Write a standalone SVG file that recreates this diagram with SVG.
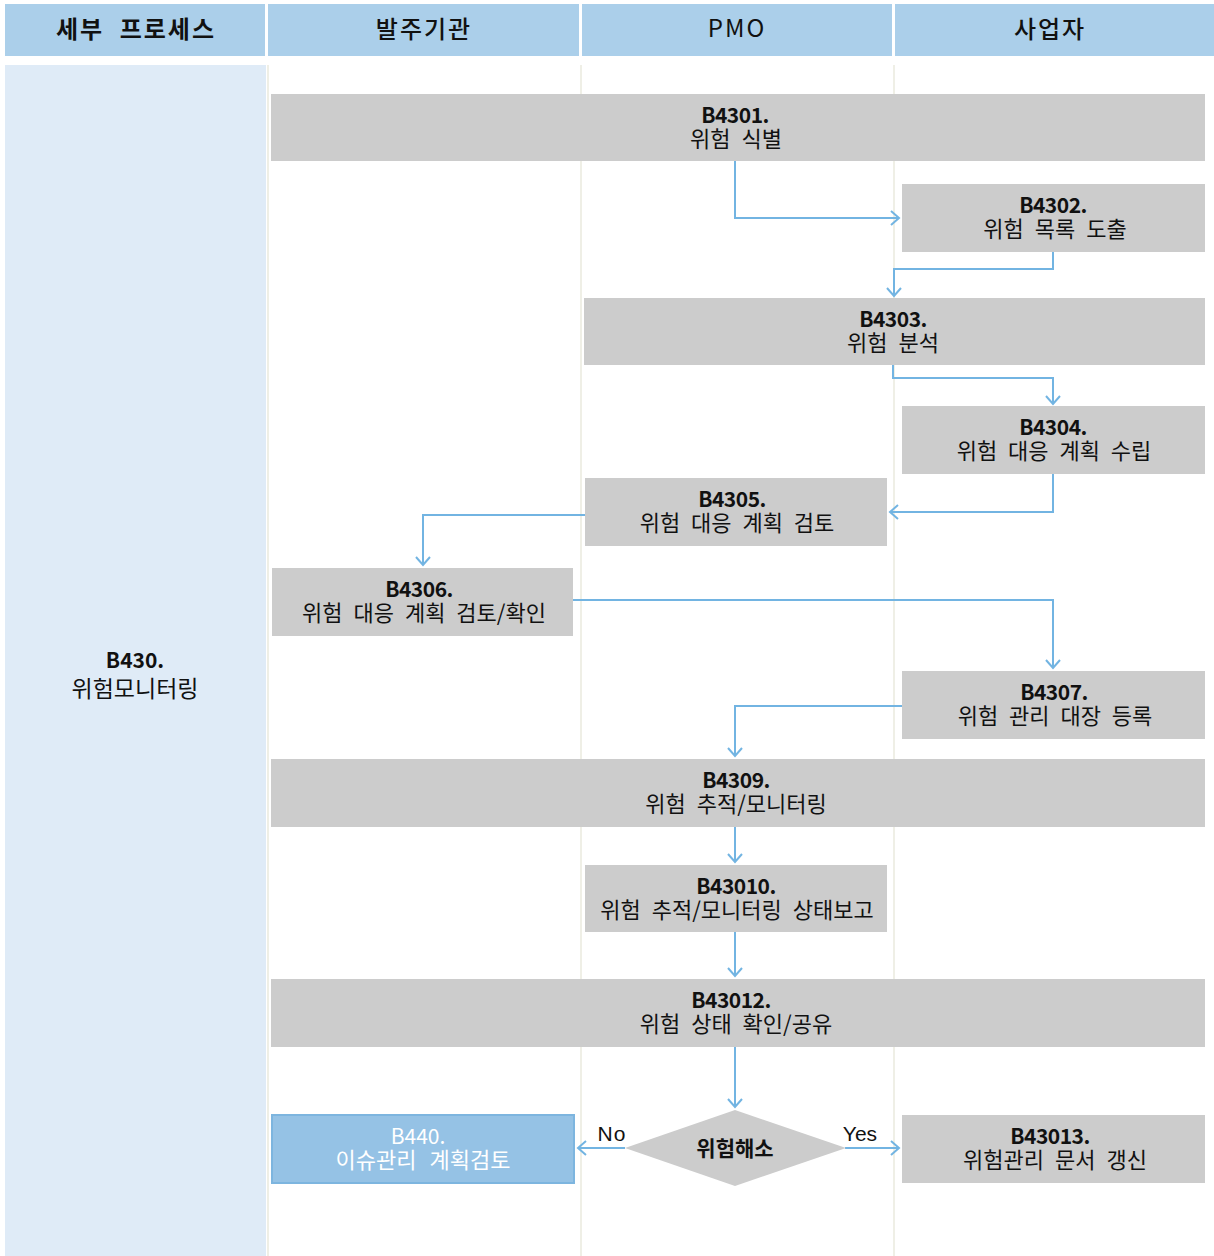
<svg xmlns="http://www.w3.org/2000/svg" width="1214" height="1256" viewBox="0 0 1214 1256">
<style>
.hdr{fill:#abcfea}
.hd{font-family:"Noto Sans CJK KR","Liberation Sans",sans-serif;font-size:24px;fill:#111;text-anchor:middle}
.lane{stroke:#efefe6;stroke-width:2}
.box{fill:#cccccc}
.t{font-family:"Noto Sans CJK KR","Liberation Sans",sans-serif;font-size:21px;font-weight:700;fill:#111;text-anchor:middle;letter-spacing:-0.5px}
.k{font-family:"Noto Sans CJK KR","Liberation Sans",sans-serif;font-size:22px;fill:#111;text-anchor:middle;word-spacing:6px}
.c{fill:none;stroke:#72b4e2;stroke-width:2;marker-end:url(#ah)}
.lbl{font-family:"Liberation Sans",Arial,sans-serif;font-size:21px;fill:#111;text-anchor:middle}
</style>
<defs>
<marker id="ah" markerUnits="userSpaceOnUse" markerWidth="20" markerHeight="20" viewBox="-10 -10 20 20" refX="0" refY="0" orient="auto">
<path d="M-8,-7 L0,0 L-8,7" fill="none" stroke="#72b4e2" stroke-width="2"/>
</marker>
</defs>
<rect width="1214" height="1256" fill="#ffffff"/>
<g id="header">
<rect class="hdr" x="5" y="4" width="260" height="52"/>
<rect class="hdr" x="268" y="4" width="311" height="52"/>
<rect class="hdr" x="582" y="4" width="310" height="52"/>
<rect class="hdr" x="895" y="4" width="319" height="52"/>
<text class="hd" x="136" y="38" font-weight="700" letter-spacing="2" word-spacing="8">세부 프로세스</text>
<text class="hd" x="424" y="38" font-weight="500" font-size="25" letter-spacing="2">발주기관</text>
<text class="hd" x="737" y="37" font-family="Liberation Sans,Arial,sans-serif" font-size="23" letter-spacing="2">PMO</text>
<text class="hd" x="1050" y="38" font-weight="500" font-size="25" letter-spacing="2">사업자</text>
</g>
<g id="lanes">
<rect x="5" y="65" width="261" height="1191" fill="#dfebf7"/>
<line class="lane" x1="268" y1="65" x2="268" y2="1256"/>
<line class="lane" x1="581" y1="65" x2="581" y2="1256"/>
<line class="lane" x1="894" y1="65" x2="894" y2="1256"/>
</g>
<g id="B430">
<text x="135" y="668" font-family="Noto Sans CJK KR,Liberation Sans,sans-serif" font-size="21" font-weight="700" fill="#111" text-anchor="middle">B430.</text>
<text x="135" y="697" font-family="Noto Sans CJK KR,Liberation Sans,sans-serif" font-size="23" fill="#111" text-anchor="middle">위험모니터링</text>
</g>
<g id="connectors">
<path class="c" d="M735,161 V218 H899"/>
<path class="c" d="M1053,252 V269 H894 V296"/>
<path class="c" d="M893,365 V378 H1053 V404"/>
<path class="c" d="M1053,474 V512 H890"/>
<path class="c" d="M585,515 H423 V565"/>
<path class="c" d="M573,600 H1053 V668"/>
<path class="c" d="M902,706 H735 V756"/>
<path class="c" d="M735,827 V862"/>
<path class="c" d="M735,932 V976"/>
<path class="c" d="M735,1047 V1107"/>
<path class="c" d="M625,1148 H578"/>
<path class="c" d="M845,1148 H899"/>
<text class="lbl" x="612" y="1141" letter-spacing="1">No</text>
<text class="lbl" x="860" y="1141">Yes</text>
</g>
<g id="B4301">
<rect class="box" x="271" y="94" width="934" height="67"/>
<text class="t" x="735" y="123">B4301.</text>
<text class="k" x="736" y="147">위험 식별</text>
</g>
<g id="B4302">
<rect class="box" x="902" y="184" width="303" height="68"/>
<text class="t" x="1053" y="213">B4302.</text>
<text class="k" x="1055" y="237">위험 목록 도출</text>
</g>
<g id="B4303">
<rect class="box" x="584" y="298" width="621" height="67"/>
<text class="t" x="893" y="327">B4303.</text>
<text class="k" x="893" y="351">위험 분석</text>
</g>
<g id="B4304">
<rect class="box" x="902" y="406" width="303" height="68"/>
<text class="t" x="1053" y="435">B4304.</text>
<text class="k" x="1054" y="459">위험 대응 계획 수립</text>
</g>
<g id="B4305">
<rect class="box" x="585" y="478" width="302" height="68"/>
<text class="t" x="732" y="507">B4305.</text>
<text class="k" x="737" y="531">위험 대응 계획 검토</text>
</g>
<g id="B4306">
<rect class="box" x="272" y="568" width="301" height="68"/>
<text class="t" x="419" y="597">B4306.</text>
<text class="k" x="424" y="621">위험 대응 계획 검토/확인</text>
</g>
<g id="B4307">
<rect class="box" x="902" y="671" width="303" height="68"/>
<text class="t" x="1054" y="700">B4307.</text>
<text class="k" x="1055" y="724">위험 관리 대장 등록</text>
</g>
<g id="B4309">
<rect class="box" x="271" y="759" width="934" height="68"/>
<text class="t" x="736" y="788">B4309.</text>
<text class="k" x="736" y="812">위험 추적/모니터링</text>
</g>
<g id="B43010">
<rect class="box" x="585" y="865" width="302" height="67"/>
<text class="t" x="736" y="894">B43010.</text>
<text class="k" x="737" y="918">위험 추적/모니터링 상태보고</text>
</g>
<g id="B43012">
<rect class="box" x="271" y="979" width="934" height="68"/>
<text class="t" x="731" y="1008">B43012.</text>
<text class="k" x="736" y="1032">위험 상태 확인/공유</text>
</g>
<g id="decision">
<polygon points="735,1110 846,1148 735,1186 625,1148" fill="#cccccc"/>
<text x="735" y="1156" font-family="Noto Sans CJK KR,Liberation Sans,sans-serif" font-size="21" font-weight="700" fill="#111" text-anchor="middle">위험해소</text>
</g>
<g id="B440">
<rect x="272" y="1115" width="302" height="68" fill="#95c2e5" stroke="#7db5df" stroke-width="2"/>
<text x="418" y="1144" font-family="Noto Sans CJK KR,Liberation Sans,sans-serif" font-size="21" fill="#ffffff" text-anchor="middle">B440.</text>
<text x="423" y="1168" font-family="Noto Sans CJK KR,Liberation Sans,sans-serif" font-size="22" fill="#ffffff" text-anchor="middle" word-spacing="8">이슈관리 계획검토</text>
</g>
<g id="B43013">
<rect class="box" x="902" y="1115" width="303" height="68"/>
<text class="t" x="1050" y="1144">B43013.</text>
<text class="k" x="1055" y="1168">위험관리 문서 갱신</text>
</g>
</svg>
